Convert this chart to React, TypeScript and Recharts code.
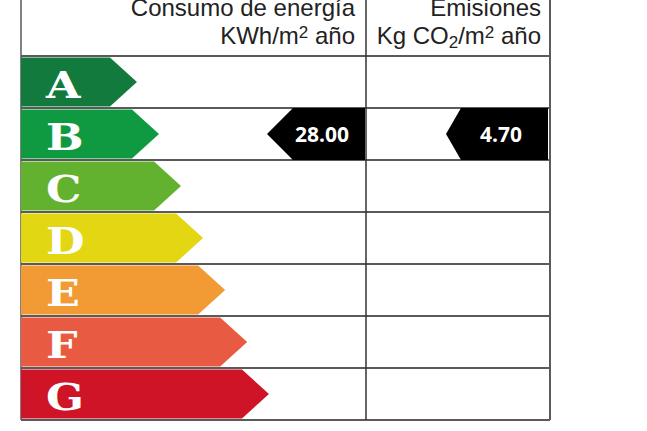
import React from 'react';
import { ComposedChart, Bar, XAxis, YAxis, Customized } from 'recharts';

// ---- data ----
const ratings = ['A', 'B', 'C', 'D', 'E', 'F', 'G'];
// reach of each rating arrow on a 0..24 scale
const bandReach = [5.26, 6.26, 7.26, 8.26, 9.26, 10.26, 11.25];
const energyValues: (number | null)[] = [null, 28.0, null, null, null, null, null];
const emissionValues: (number | null)[] = [null, 4.7, null, null, null, null, null];
const energyHeader = ['Consumo de energía', 'KWh/m', '2', ' año'];
const emissionHeader = ['Emisiones', 'Kg CO', '2', '/m', '2', ' año'];

// ---- style / layout ----
const COLORS = ['#127a3d', '#0f9a41', '#63b22f', '#e2d712', '#f29a33', '#e85a41', '#cf1428'];
const W = 647;
const H = 431;
const MARGIN = { top: 56, right: 97, bottom: 11, left: 21 };
const PLOT_LEFT = MARGIN.left;
const PLOT_RIGHT = W - MARGIN.right;
const PLOT_TOP = MARGIN.top;
const PLOT_BOTTOM = H - MARGIN.bottom;
const COL_SPLIT = PLOT_LEFT + 345;
const LINE = '#5a5a5a';
const HEADER_FONT = '"Liberation Sans", Arial, sans-serif';

const data = ratings.map((r, i) => ({
  rating: r,
  reach: bandReach[i],
  energy: energyValues[i],
  emission: emissionValues[i],
}));

function Marker({ right, y, height, total, tip, label, textX }: any) {
  const left = right - total;
  const mid = y + height / 2;
  const pts = `${right},${y} ${right},${y + height} ${left + tip},${y + height} ${left},${mid} ${left + tip},${y}`;
  return (
    <g>
      <polygon points={pts} fill="#000" />
      <text
        x={textX}
        y={mid + 7.5}
        textAnchor="middle"
        fill="#fff"
        fontFamily='"Open Sans", sans-serif'
        fontWeight={700}
        fontSize={21}
      >
        {label}
      </text>
    </g>
  );
}

function BandShape(props: any) {
  const { x, y, width, height, index, payload } = props;
  const tip = 27;
  const top = y + 1.5;
  const bot = y + height - 1.5;
  const mid = y + height / 2;
  const end = x + width;
  const pts = `${x},${top} ${end - tip},${top} ${end},${mid} ${end - tip},${bot} ${x},${bot}`;
  return (
    <g>
      <polygon points={pts} fill={COLORS[index]} />
      <g transform={`translate(${x + 25}, ${y + 41.5}) scale(1.17, 1)`}>
        <text
          x={0}
          y={0}
          fill="#fff"
          fontFamily='"DejaVu Serif", serif'
          fontWeight={700}
          fontSize={38}
        >
          {payload.rating}
        </text>
      </g>
      {payload.energy != null && (
        <Marker
          right={COL_SPLIT - 1}
          y={y}
          height={height}
          total={98}
          tip={26}
          label={payload.energy.toFixed(2)}
          textX={COL_SPLIT - 44}
        />
      )}
      {payload.emission != null && (
        <Marker
          right={PLOT_RIGHT - 2}
          y={y}
          height={height}
          total={102}
          tip={15}
          label={payload.emission.toFixed(2)}
          textX={PLOT_RIGHT - 49}
        />
      )}
    </g>
  );
}

function TableFrame() {
  const rowH = (PLOT_BOTTOM - PLOT_TOP) / ratings.length;
  const rows = [];
  for (let i = 0; i <= ratings.length; i++) {
    const yy = PLOT_TOP + i * rowH;
    rows.push(<line key={'h' + i} x1={PLOT_LEFT} x2={PLOT_RIGHT} y1={yy} y2={yy} stroke={LINE} strokeWidth={2} />);
  }
  return (
    <g>
      {rows}
      <line x1={PLOT_LEFT} x2={PLOT_LEFT} y1={0} y2={PLOT_BOTTOM} stroke={LINE} strokeWidth={1.5} />
      <line x1={COL_SPLIT} x2={COL_SPLIT} y1={0} y2={PLOT_BOTTOM} stroke="#333" strokeWidth={1.5} />
      <line x1={PLOT_RIGHT} x2={PLOT_RIGHT} y1={0} y2={PLOT_BOTTOM} stroke={LINE} strokeWidth={2} />
      <text x={COL_SPLIT - 11} y={16} textAnchor="end" fontFamily={HEADER_FONT} fontSize={24} fill="#222">
        {energyHeader[0]}
      </text>
      <text x={COL_SPLIT - 11} y={44} textAnchor="end" fontFamily={HEADER_FONT} fontSize={24} fill="#222">
        {energyHeader[1]}
        <tspan fontSize={17} dy={-6}>{energyHeader[2]}</tspan>
        <tspan dy={6}>{energyHeader[3]}</tspan>
      </text>
      <text x={PLOT_RIGHT - 9} y={16} textAnchor="end" fontFamily={HEADER_FONT} fontSize={24} fill="#222">
        {emissionHeader[0]}
      </text>
      <text x={PLOT_RIGHT - 9} y={44} textAnchor="end" fontFamily={HEADER_FONT} fontSize={24} fill="#222">
        {emissionHeader[1]}
        <tspan fontSize={17} dy={4}>{emissionHeader[2]}</tspan>
        <tspan dy={-4}>{emissionHeader[3]}</tspan>
        <tspan fontSize={17} dy={-6}>{emissionHeader[4]}</tspan>
        <tspan dy={6}>{emissionHeader[5]}</tspan>
      </text>
    </g>
  );
}

export default function App() {
  return (
    <div style={{ position: 'absolute', left: 0, top: 0, width: W, height: H, background: '#fff' }}>
      <ComposedChart
        width={W}
        height={H}
        data={data}
        layout="vertical"
        margin={MARGIN}
        barCategoryGap={0}
        barGap={0}
      >
        <XAxis xAxisId="s" type="number" domain={[0, 24]} hide />
        <YAxis yAxisId="r" type="category" dataKey="rating" hide width={0} />
        <Customized component={TableFrame} />
        <Bar
          xAxisId="s"
          yAxisId="r"
          dataKey="reach"
          isAnimationActive={false}
          shape={(p: any) => <BandShape {...p} />}
        />
      </ComposedChart>
    </div>
  );
}
